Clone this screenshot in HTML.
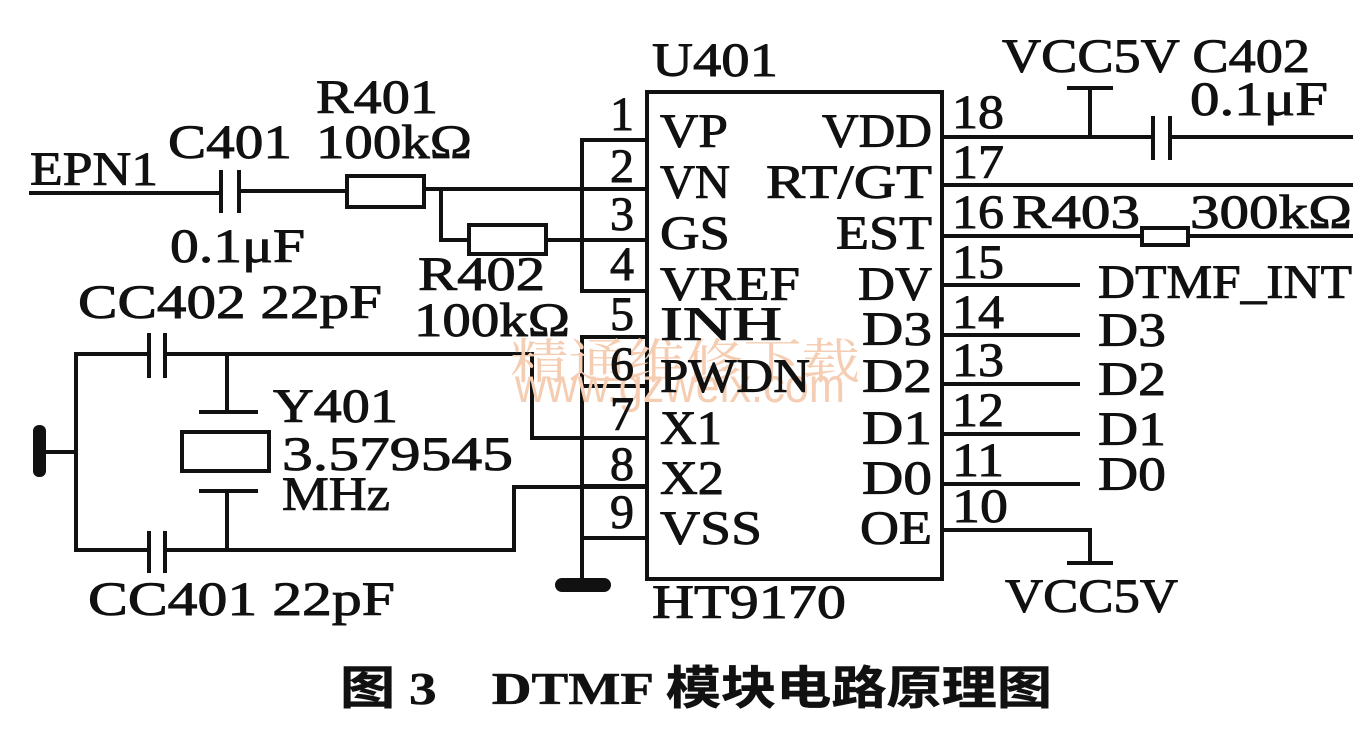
<!DOCTYPE html>
<html><head><meta charset="utf-8"><style>
html,body{margin:0;padding:0;background:#fff;}
svg{display:block;}
text{font-family:"Liberation Serif","Noto Serif CJK SC",serif;font-size:48px;fill:#111;stroke:#111;stroke-width:0.9;}
.cap{font-family:"Liberation Serif","Noto Sans CJK SC",sans-serif;font-weight:bold;font-size:46px;stroke-width:0.5;}
.wm{fill:#f5cdb2;stroke:none;font-family:"Noto Serif CJK SC",serif;}
</style></head><body>
<svg width="1369" height="730" viewBox="0 0 1369 730" xmlns="http://www.w3.org/2000/svg">
<g stroke="#111" stroke-width="4" fill="none">
<rect x="647" y="92" width="295" height="487"/>
<line x1="29" y1="193" x2="221" y2="193"/>
<line x1="221" y1="170" x2="221" y2="213"/>
<line x1="239" y1="170" x2="239" y2="213"/>
<line x1="239" y1="191" x2="347" y2="191"/>
<rect x="347" y="176" width="77" height="31"/>
<line x1="424" y1="189" x2="647" y2="189"/>
<polyline points="441,189 441,240 469,240"/>
<rect x="469" y="225" width="77" height="29"/>
<line x1="546" y1="240" x2="647" y2="240"/>
<polyline points="647,140 582,140 582,291 647,291"/>
<polyline points="647,337 582,337 582,582"/>
<line x1="582" y1="386" x2="647" y2="386"/>
<line x1="582" y1="486" x2="647" y2="486"/>
<line x1="582" y1="538" x2="647" y2="538"/>
<polyline points="149,354 76,354 76,550 149,550"/>
<line x1="149" y1="333" x2="149" y2="378"/>
<line x1="165" y1="333" x2="165" y2="378"/>
<polyline points="165,354 532,354 532,438 647,438"/>
<line x1="227" y1="354" x2="227" y2="412"/>
<line x1="199" y1="412" x2="258" y2="412"/>
<rect x="182" y="432" width="87" height="39"/>
<line x1="199" y1="491" x2="258" y2="491"/>
<line x1="227" y1="491" x2="227" y2="550"/>
<line x1="149" y1="531" x2="149" y2="573"/>
<line x1="165" y1="531" x2="165" y2="573"/>
<polyline points="165,550 514,550 514,487 647,487"/>
<line x1="40" y1="452" x2="76" y2="452"/>
<line x1="942" y1="137" x2="1153" y2="137"/>
<line x1="1090" y1="88" x2="1090" y2="137"/>
<line x1="1067" y1="88" x2="1113" y2="88"/>
<line x1="1153" y1="116" x2="1153" y2="160"/>
<line x1="1170" y1="116" x2="1170" y2="160"/>
<line x1="1170" y1="137" x2="1353" y2="137"/>
<line x1="942" y1="185" x2="1353" y2="185"/>
<line x1="942" y1="236" x2="1142" y2="236"/>
<rect x="1142" y="228" width="46" height="17"/>
<line x1="1188" y1="236" x2="1353" y2="236"/>
<line x1="942" y1="285" x2="1080" y2="285"/>
<line x1="942" y1="335" x2="1080" y2="335"/>
<line x1="942" y1="384" x2="1080" y2="384"/>
<line x1="942" y1="434" x2="1080" y2="434"/>
<line x1="942" y1="484" x2="1080" y2="484"/>
<polyline points="942,530 1090,530 1090,563"/>
<line x1="1067" y1="563" x2="1113" y2="563"/>
</g>
<rect x="33" y="425" width="13" height="52" rx="6" fill="#111"/>
<rect x="555" y="578" width="56" height="14" rx="7" fill="#111"/>
<text class="wm" x="510" y="378" font-size="46" textLength="350" lengthAdjust="spacingAndGlyphs">精通维修下载</text>
<text class="wm" x="515" y="402" font-size="28" textLength="330" lengthAdjust="spacingAndGlyphs" style="font-family:'Liberation Sans',sans-serif">www.gzweix.com</text>
<text x="652" y="76" textLength="126" lengthAdjust="spacingAndGlyphs">U401</text>
<text x="316" y="113" textLength="122" lengthAdjust="spacingAndGlyphs">R401</text>
<text x="168" y="158" textLength="124" lengthAdjust="spacingAndGlyphs">C401</text>
<text x="316" y="158" textLength="156" lengthAdjust="spacingAndGlyphs">100kΩ</text>
<text x="30" y="185" textLength="128" lengthAdjust="spacingAndGlyphs">EPN1</text>
<text x="170" y="262" textLength="135" lengthAdjust="spacingAndGlyphs">0.1μF</text>
<text x="418" y="290" textLength="127" lengthAdjust="spacingAndGlyphs">R402</text>
<text x="414" y="336" textLength="156" lengthAdjust="spacingAndGlyphs">100kΩ</text>
<text x="78" y="318" textLength="304" lengthAdjust="spacingAndGlyphs">CC402 22pF</text>
<text x="273" y="422" textLength="125" lengthAdjust="spacingAndGlyphs">Y401</text>
<text x="282" y="470" textLength="231" lengthAdjust="spacingAndGlyphs">3.579545</text>
<text x="282" y="510" textLength="108" lengthAdjust="spacingAndGlyphs">MHz</text>
<text x="88" y="615" textLength="307" lengthAdjust="spacingAndGlyphs">CC401 22pF</text>
<text x="652" y="618" textLength="194" lengthAdjust="spacingAndGlyphs">HT9170</text>
<g text-anchor="end">
<text x="634" y="130">1</text><text x="634" y="182">2</text><text x="634" y="230">3</text>
<text x="634" y="280">4</text><text x="634" y="330">5</text><text x="634" y="380">6</text>
<text x="634" y="430">7</text><text x="634" y="480">8</text><text x="634" y="528">9</text>
</g>
<text x="660" y="147" textLength="68" lengthAdjust="spacingAndGlyphs">VP</text>
<text x="660" y="198" textLength="70" lengthAdjust="spacingAndGlyphs">VN</text>
<text x="660" y="249" textLength="70" lengthAdjust="spacingAndGlyphs">GS</text>
<text x="660" y="300" textLength="140" lengthAdjust="spacingAndGlyphs">VREF</text>
<text x="660" y="340" textLength="122" lengthAdjust="spacingAndGlyphs">INH</text>
<text x="660" y="392" textLength="150" lengthAdjust="spacingAndGlyphs">PWDN</text>
<text x="660" y="444" textLength="62" lengthAdjust="spacingAndGlyphs">X1</text>
<text x="660" y="494" textLength="64" lengthAdjust="spacingAndGlyphs">X2</text>
<text x="660" y="544" textLength="102" lengthAdjust="spacingAndGlyphs">VSS</text>
<text x="822" y="147" textLength="110" lengthAdjust="spacingAndGlyphs">VDD</text>
<text x="766" y="198" textLength="166" lengthAdjust="spacingAndGlyphs">RT/GT</text>
<text x="836" y="249" textLength="96" lengthAdjust="spacingAndGlyphs">EST</text>
<text x="858" y="300" textLength="74" lengthAdjust="spacingAndGlyphs">DV</text>
<text x="862" y="345" textLength="70" lengthAdjust="spacingAndGlyphs">D3</text>
<text x="862" y="392" textLength="70" lengthAdjust="spacingAndGlyphs">D2</text>
<text x="862" y="444" textLength="70" lengthAdjust="spacingAndGlyphs">D1</text>
<text x="862" y="494" textLength="70" lengthAdjust="spacingAndGlyphs">D0</text>
<text x="860" y="544" textLength="72" lengthAdjust="spacingAndGlyphs">OE</text>
<text x="952" y="128" textLength="52" lengthAdjust="spacingAndGlyphs">18</text>
<text x="952" y="178" textLength="52" lengthAdjust="spacingAndGlyphs">17</text>
<text x="952" y="228" textLength="52" lengthAdjust="spacingAndGlyphs">16</text>
<text x="952" y="278" textLength="52" lengthAdjust="spacingAndGlyphs">15</text>
<text x="952" y="328" textLength="52" lengthAdjust="spacingAndGlyphs">14</text>
<text x="952" y="376" textLength="52" lengthAdjust="spacingAndGlyphs">13</text>
<text x="952" y="426" textLength="52" lengthAdjust="spacingAndGlyphs">12</text>
<text x="952" y="476" textLength="52" lengthAdjust="spacingAndGlyphs">11</text>
<text x="952" y="522" textLength="56" lengthAdjust="spacingAndGlyphs">10</text>
<text x="1002" y="72" textLength="308" lengthAdjust="spacingAndGlyphs">VCC5V C402</text>
<text x="1190" y="115" textLength="138" lengthAdjust="spacingAndGlyphs">0.1μF</text>
<text x="1012" y="228" textLength="128" lengthAdjust="spacingAndGlyphs">R403</text>
<text x="1190" y="228" textLength="162" lengthAdjust="spacingAndGlyphs">300kΩ</text>
<text x="1098" y="298" textLength="254" lengthAdjust="spacingAndGlyphs">DTMF_INT</text>
<text x="1098" y="346" textLength="68" lengthAdjust="spacingAndGlyphs">D3</text>
<text x="1098" y="395" textLength="68" lengthAdjust="spacingAndGlyphs">D2</text>
<text x="1098" y="445" textLength="68" lengthAdjust="spacingAndGlyphs">D1</text>
<text x="1098" y="490" textLength="68" lengthAdjust="spacingAndGlyphs">D0</text>
<text x="1005" y="612" textLength="173" lengthAdjust="spacingAndGlyphs">VCC5V</text>
<text class="cap" x="340" y="704" textLength="712" lengthAdjust="spacingAndGlyphs">图 3　DTMF 模块电路原理图</text>
</svg>
</body></html>
